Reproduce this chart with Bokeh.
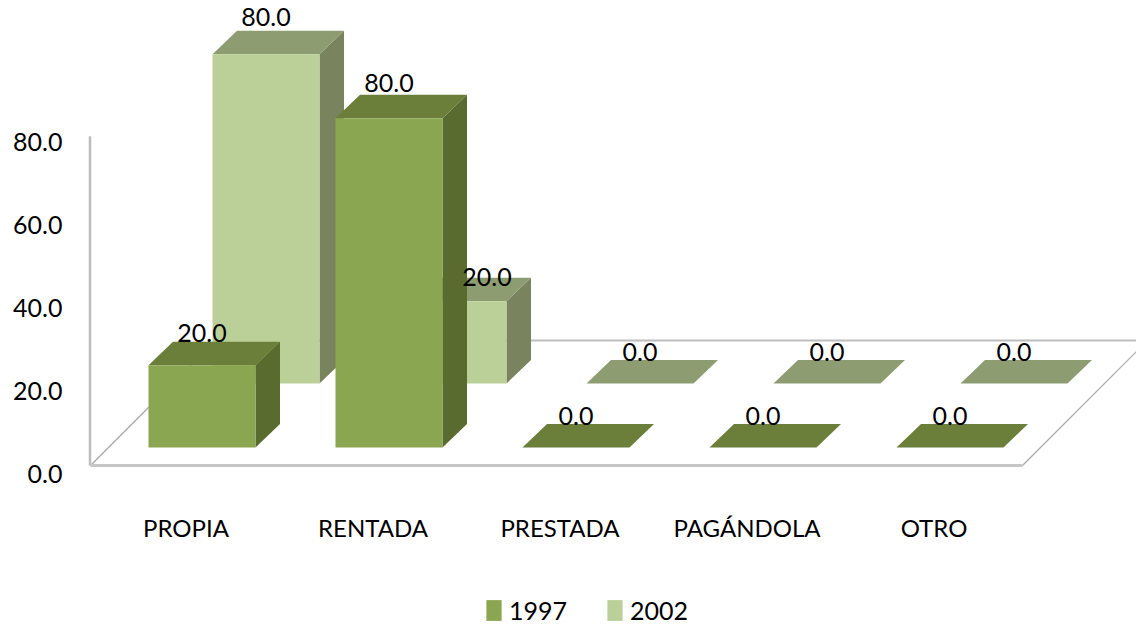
from bokeh.plotting import figure
from bokeh.models import (Range1d, LinearAxis, FixedTicker, NumeralTickFormatter,
                          Legend, LegendItem, ColumnDataSource)
from bokeh.core.properties import value
from bokeh.embed import file_html
from bokeh.resources import INLINE

categories = ["PROPIA", "RENTADA", "PRESTADA", "PAGÁNDOLA", "OTRO"]
series_names = ["1997", "2002"]
values_1997 = [20.0, 80.0, 0.0, 0.0, 0.0]
values_2002 = [80.0, 20.0, 0.0, 0.0, 0.0]
y_ticks = [0, 20, 40, 60, 80]

FONT = "Lato"
front = {"1997": "#8BA650", "2002": "#BBD098"}
top = {"1997": "#6B7F3A", "2002": "#8E9C72"}
side = {"1997": "#5A6B30", "2002": "#79845F"}

# page geometry (px) of the oblique projection
W, H = 1136, 628
FRAME_L, FRAME_R, FRAME_T, FRAME_B = 80, 1136, 0, 628
CAT_STEP = 187.0        # px per category
CAT0 = 185.5            # page x of first category centre
VAL_PX = 4.115          # px per value unit
FLOOR_Y = 465.0         # page y of value 0 on the front floor edge
BAR_W = 107.0
BAR_LEFT = 148.0 - CAT0  # px from the category centre to the front-left edge
BASE_UP = 18.0          # floor front edge to bar base
DEPTH_X, DEPTH_Y = 24.5, 23.5   # bar depth
SER_X, SER_Y = 64.0, 64.0       # offset of second series
LABEL_UP = 32.0                 # data label above the bar's front top edge
# data labels the reference shows moved away from their usual place: (series, category) -> px
LABEL_NUDGE = {(1, 0): (0, 5), (0, 1): (0, 3), (1, 1): (34, -8)}


def X(px):
    """px relative to the first category centre -> category units"""
    return px / CAT_STEP


def Y(px):
    """px above the floor edge -> value units"""
    return px / VAL_PX


p = figure(width=W, height=H, output_backend="svg", toolbar_location=None,
           x_range=Range1d(X(FRAME_L - CAT0), X(FRAME_R - CAT0)),
           y_range=Range1d(Y(FLOOR_Y - FRAME_B), Y(FLOOR_Y - FRAME_T)),
           min_border_left=FRAME_L, min_border_right=0, min_border_top=0,
           min_border_bottom=0, x_axis_type=None, y_axis_type=None,
           outline_line_color=None)
p.grid.visible = False

# ---- walls and floor
AX_X = X(89.5 - CAT0)
FL_L, FL_R = X(90 - CAT0), X(1022 - CAT0)
FL_DX, FL_DY = X(125), Y(125)
p.line([FL_L, FL_L + FL_DX], [0, FL_DY], line_color="#A8A8A8", line_width=1.2)
p.line([FL_L + FL_DX, FL_R + FL_DX], [FL_DY, FL_DY], line_color="#BDBDBD", line_width=2.2)
p.line([FL_R, FL_R + FL_DX], [0, FL_DY], line_color="#A8A8A8", line_width=1.2)
p.line([AX_X, AX_X], [0, 80], line_color="#BDBDBD", line_width=2.5)
p.line([FL_L, FL_R], [0, 0], line_color="#C6C6C6", line_width=3)

# ---- bars, back series first
fronts = {}
labels = {"x": [], "y": [], "t": []}
for s, (name, vals) in reversed(list(enumerate(zip(series_names, [values_1997, values_2002])))):
    fx, fy, tx, ty, sx, sy = [], [], [], [], [], []
    for i, v in enumerate(vals):
        x0 = i + X(BAR_LEFT + SER_X * s)
        x1 = x0 + X(BAR_W)
        dx, dy = X(DEPTH_X), Y(DEPTH_Y)
        y0 = Y(BASE_UP + SER_Y * s)
        y1 = y0 + v
        fx.append([x0, x1, x1, x0]); fy.append([y0, y0, y1, y1])
        tx.append([x0, x1, x1 + dx, x0 + dx]); ty.append([y1, y1, y1 + dy, y1 + dy])
        sx.append([x1, x1 + dx, x1 + dx, x1]); sy.append([y0, y0 + dy, y1 + dy, y1])
        nudge_x, nudge_y = LABEL_NUDGE.get((s, i), (0, 0))
        labels["x"].append((x0 + x1) / 2 + X(nudge_x))
        labels["y"].append(y1 + Y(LABEL_UP + nudge_y))
        labels["t"].append(f"{v:.1f}")
    p.patches(sx, sy, fill_color=side[name], line_color=None)
    p.patches(tx, ty, fill_color=top[name], line_color=None)
    fronts[name] = p.patches(fx, fy, fill_color=front[name], line_color=None)

p.text("x", "y", "t", source=ColumnDataSource(labels), text_font=value(FONT),
       text_font_size="25px", text_color="#000000", text_align="center",
       text_baseline="middle")

# ---- category labels, in the same frame as the marks
cat_src = ColumnDataSource({"x": list(range(len(categories))),
                            "y": [Y(FLOOR_Y - 526.5)] * len(categories),
                            "t": categories})
p.text("x", "y", "t", source=cat_src, text_font=value(FONT), text_font_size="24px",
       text_color="#000000", text_align="center", text_baseline="middle")

# ---- value axis labels sit slightly lower than the wall they belong to
LBL_PX = 4.15
LBL_Y0 = 473.0
p.extra_y_ranges["labels"] = Range1d((LBL_Y0 - FRAME_B) / LBL_PX, (LBL_Y0 - FRAME_T) / LBL_PX)
ya = LinearAxis(y_range_name="labels", ticker=FixedTicker(ticks=y_ticks),
                formatter=NumeralTickFormatter(format="0.0"),
                axis_line_color=None, major_tick_line_color=None, minor_tick_line_color=None,
                major_label_standoff=12, major_label_text_font=FONT,
                major_label_text_font_size="25px", major_label_text_color="#000000")
p.add_layout(ya, "left")

# ---- legend
legend = Legend(items=[LegendItem(label=n, renderers=[fronts[n]]) for n in series_names],
                orientation="horizontal", location=(404, 3), margin=0, padding=0,
                spacing=38, border_line_color=None, background_fill_color=None,
                background_fill_alpha=0, glyph_width=19, glyph_height=26, label_standoff=6,
                label_text_font=FONT, label_text_font_size="25px", label_text_color="#000000")
p.add_layout(legend, "center")

open("out.html", "w").write(file_html(p, INLINE))
